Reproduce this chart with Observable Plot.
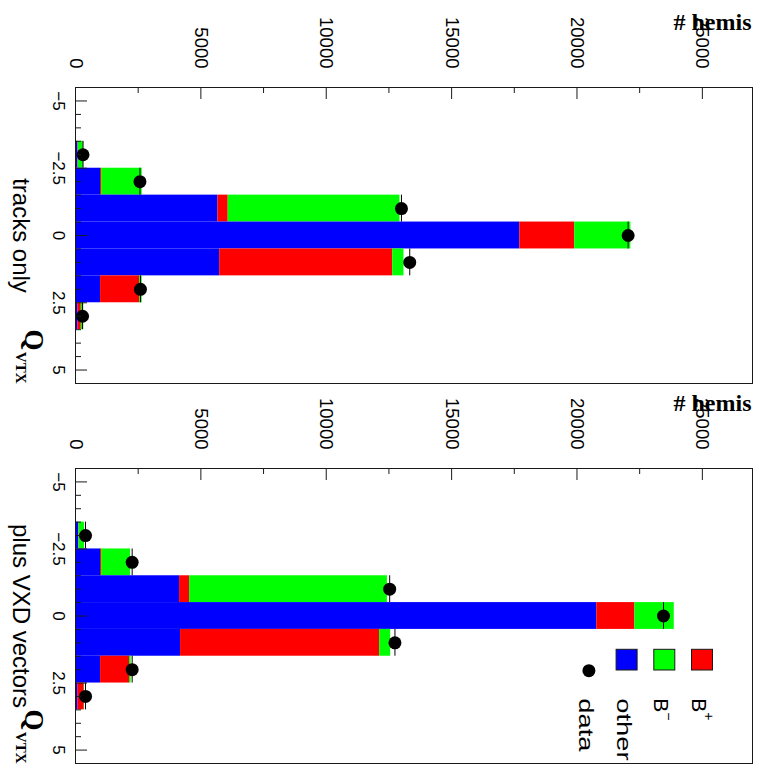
<!DOCTYPE html>
<html><head><meta charset="utf-8">
<script src="https://cdn.jsdelivr.net/npm/d3@7"></script>
<script src="https://cdn.jsdelivr.net/npm/@observablehq/plot@0.6"></script>
<style>
html,body{margin:0;padding:0;background:#fff;}
#chart{width:757px;height:766px;position:relative;overflow:hidden;background:#fff;}
#chart svg{display:block;}
</style></head><body><div id="chart"></div>
<script>
// ---- data ----
const qBins = [-5, -4, -3, -2, -1, 0, 1, 2, 3, 4, 5];
const seriesNames = ["other", "B+", "B-"];
const seriesColors = ["#0000ff", "#ff0000", "#00ff00"];

const tracksOther  = [0, 0, 90, 1000, 5680, 17720, 5750, 1000, 90, 0, 0];
const tracksBplus  = [0, 0, 20, 40, 410, 2190, 6900, 1565, 140, 0, 0];
const tracksBminus = [15, 15, 200, 1620, 6850, 2240, 450, 95, 100, 15, 15];
const tracksData   = [null, null, 300, 2570, 13000, 22040, 13330, 2590, 280, null, null];

const vxdOther  = [0, 0, 130, 1000, 4150, 20790, 4190, 1000, 90, 0, 0];
const vxdBplus  = [0, 0, 10, 40, 400, 1520, 7940, 1155, 260, 0, 0];
const vxdBminus = [15, 15, 220, 1155, 7890, 1570, 440, 65, 10, 15, 15];
const vxdData   = [null, null, 400, 2260, 12530, 23450, 12740, 2260, 400, null, null];

const countMajor = [0, 5000, 10000, 15000, 20000, 25000];
const countMajorLabels = ["0", "5000", "10000", "15000", "20000", "25000"];
const countMinor = [2500, 7500, 12500, 17500, 22500];
const qMajor = [-5, -2.5, 0, 2.5, 5];
const qMajorLabels = ["\u22125", "\u22122.5", "0", "2.5", "5"];
const qMinor = [-4.5, -4, -3.5, -3, -2, -1.5, -1, -0.5, 0.5, 1, 1.5, 2, 3, 3.5, 4, 4.5];

const legendLabels = [
  {series: "B+", base: "B", sup: "+"},
  {series: "B-", base: "B", sup: "\u2212"},
  {series: "other", base: "other", sup: null},
  {series: "data", base: "data", sup: null}
];

// ---- style ----
const W = 757;
const SANS = "'Liberation Sans', Arial, Helvetica, sans-serif";
const SERIF = "'Liberation Serif', 'Times New Roman', Times, serif";
const INK = "#1a1a1a";

function stretch(svg, label, s, vertical) {
  d3.select(svg).selectAll(`g[aria-label="${label}"] text`).attr("transform", function () {
    const t = this.getAttribute("transform") || "";
    return t + (vertical ? ` scale(1,${s})` : ` scale(${s},1)`);
  });
}

function makePanel(cfg) {
  const rows = qBins.flatMap((q, i) => [
    {q, s: "other", v: cfg.other[i]},
    {q, s: "B+", v: cfg.bplus[i]},
    {q, s: "B-", v: cfg.bminus[i]}
  ]);
  const pts = qBins.map((q, i) => ({q, v: cfg.data[i]})).filter(d => d.v != null);
  const svg = Plot.plot({
    width: W, height: cfg.height,
    marginLeft: 75, marginRight: 5, marginTop: cfg.mt, marginBottom: cfg.mb,
    x: {domain: [0, 27000], axis: null},
    y: {domain: [-5.5, 5.5], reverse: true, axis: null},
    color: {domain: seriesNames, range: seriesColors},
    style: {background: "white", overflow: "visible"},
    marks: [
      Plot.rectX(rows, {x: "v", y1: d => d.q - 0.5, y2: d => d.q + 0.5, fill: "s"}),
      Plot.ruleX(pts, {x: "v", y1: d => d.q - 0.5, y2: d => d.q + 0.5, stroke: "black"}),
      Plot.dot(pts, {x: "v", y: "q", r: 6.5, fill: "black"}),
      Plot.frame({stroke: INK}),
      Plot.ruleX(countMajor, {x: d => d, y1: -5.5, y2: -5.5, insetBottom: -12, stroke: INK}),
      Plot.ruleX(countMinor, {x: d => d, y1: -5.5, y2: -5.5, insetBottom: -6, stroke: INK}),
      Plot.ruleY(qMajor, {y: d => d, x1: 0, x2: 0, insetRight: -12, stroke: INK}),
      Plot.ruleY(qMinor, {y: d => d, x1: 0, x2: 0, insetRight: -6, stroke: INK}),
      Plot.text(countMajor, {x: d => d, text: (d, i) => countMajorLabels[i], frameAnchor: "top", dy: -19,
        rotate: 90, textAnchor: "end", lineAnchor: "middle", fontSize: 18.5, fontFamily: SANS, fill: "black",
        ariaLabel: "count-labels"}),
      Plot.text(qMajor, {y: d => d, text: (d, i) => qMajorLabels[i], frameAnchor: "left", dx: -17,
        rotate: 90, textAnchor: "middle", lineAnchor: "middle", fontSize: 17, fontFamily: SANS, fill: "black",
        ariaLabel: "q-labels"}),
      Plot.text([cfg.label], {frameAnchor: "left", dx: -63, rotate: 90, textAnchor: "middle", lineAnchor: "bottom",
        fontSize: 24, fontFamily: SANS, fill: "black", ariaLabel: "panel-label"}),
      Plot.text(["Q"], {frameAnchor: "bottom-left", dx: -51, dy: -33, rotate: 90, textAnchor: "end", lineAnchor: "bottom",
        fontSize: 27, fontFamily: SERIF, fontWeight: "bold", fill: "black", ariaLabel: "q-title"}),
      Plot.text(["VTX"], {frameAnchor: "bottom-left", dx: -60, dy: 0, rotate: 90, textAnchor: "end", lineAnchor: "bottom",
        fontSize: 15, fontFamily: SERIF, fontWeight: "bold", fill: "black", ariaLabel: "q-sub"}),
      Plot.text(["# hemis"], {frameAnchor: "top-right", dx: -1, dy: -58, textAnchor: "end", lineAnchor: "bottom",
        fontSize: 24, fontFamily: SERIF, fontWeight: "bold", fill: "black", ariaLabel: "y-title"})
    ]
  });
  stretch(svg, "count-labels", 1.08);
  stretch(svg, "q-labels", 1.25);
  stretch(svg, "panel-label", cfg.labelStretch);
  stretch(svg, "y-title", 1.06, true);
  return svg;
}

const topPanel = makePanel({height: 384, mt: 87, mb: 1, other: tracksOther, bplus: tracksBplus, bminus: tracksBminus,
  data: tracksData, label: "tracks only", labelStretch: 1.18});
const bottomPanel = makePanel({height: 382, mt: 84, mb: 3, other: vxdOther, bplus: vxdBplus, bminus: vxdBminus,
  data: vxdData, label: "plus VXD vectors", labelStretch: 1.12});

// ---- legend (bottom panel) ----
(function legend() {
  const frameRight = W - 5, frameBottom = 382 - 3;
  const colorOf = new Map(seriesNames.map((s, i) => [s, seriesColors[i]]));
  const g = d3.select(bottomPanel).append("g").attr("aria-label", "legend");
  legendLabels.forEach((item, i) => {
    const cx = frameRight - 50 - i * 37.7;
    if (colorOf.has(item.series)) {
      g.append("rect").attr("x", cx - 10.5).attr("y", frameBottom - 113.7).attr("width", 21).attr("height", 20.7)
        .attr("fill", colorOf.get(item.series)).attr("stroke", INK).attr("stroke-width", 1);
    } else {
      g.append("circle").attr("cx", cx).attr("cy", frameBottom - 92.3).attr("r", 6.5).attr("fill", "black");
    }
    const s = item.sup ? 1.0 : 1.3;
    const t = g.append("text")
      .attr("transform", `translate(${cx - 10},${frameBottom - 64.7}) rotate(90) scale(${s},1)`)
      .attr("font-family", SANS).attr("font-size", 21).attr("fill", "black").attr("text-anchor", "start")
      .text(item.base);
    if (item.sup) {
      t.append("tspan").attr("font-size", 14).attr("dy", item.sup === "+" ? -12 : -10).text(item.sup);
    }
  });
})();

document.getElementById("chart").append(topPanel, bottomPanel);
</script>
</body></html>
